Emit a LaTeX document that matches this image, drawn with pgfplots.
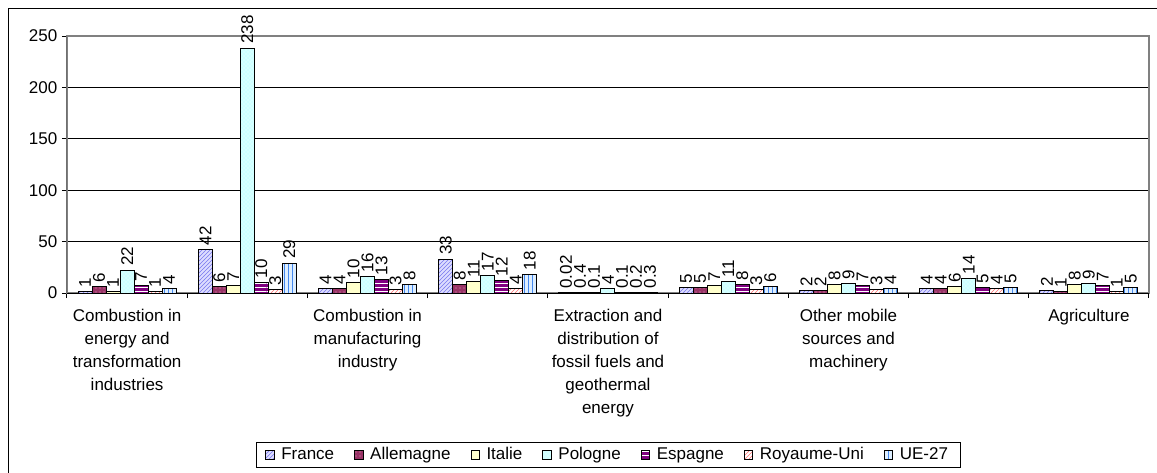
\documentclass[border=0pt]{standalone}
\usepackage{fontspec}
\setmainfont{Liberation Sans}
\usepackage{pgfplots}
\pgfplotsset{compat=1.18}
\usepackage{pgfplotstable}
\usetikzlibrary{patterns}

\definecolor{frF}{HTML}{DDDDFF}
\definecolor{frP}{HTML}{7777EE}
\definecolor{deF}{HTML}{993366}
\definecolor{deP}{HTML}{E0A0C0}
\definecolor{itF}{HTML}{FFFFCC}
\definecolor{plF}{HTML}{CCFFFF}
\definecolor{esF}{HTML}{800080}
\definecolor{ukP}{HTML}{FF7070}
\definecolor{euF}{HTML}{DDEEFF}
\definecolor{euP}{HTML}{4488EE}

% emissions per sector (index 0..8), one column per country
\pgfplotstableread{
x fr de it pl es uk eu
0 1 6 1 22 7 1 4
1 42 6 7 238 10 3 29
2 4 4 10 16 13 3 8
3 33 8 11 17 12 4 18
4 0.02 0.4 0.1 4 0.1 0.2 0.3
5 5 5 7 11 8 3 6
6 2 2 8 9 7 3 4
7 4 4 6 14 5 4 5
8 2 1 8 9 7 1 5
}\emissions

\begin{document}
\begin{tikzpicture}[font=\fontsize{12.75}{17.25}\selectfont]
\useasboundingbox (0pt,0pt) rectangle (867.75pt,-354pt);
\draw[black, line width=0.75pt] (6pt,-6pt) rectangle (880pt,-370pt);

\begin{axis}[
  at={(50.25pt,-219.75pt)}, anchor=south west,
  scale only axis, width=811.5pt, height=192.75pt,
  xmin=-0.5, xmax=8.5, ymin=0, ymax=250,
  ybar=0pt, bar width=10.5pt,
  ytick={0,50,...,250},
  ymajorgrids, grid style={black, line width=0.6pt},
  axis line style={draw=gray, line width=1pt},
  tick pos=left, tick align=outside,
  major tick length=3.75pt, minor tick length=3.75pt,
  tick style={black, line width=0.75pt},
  xtick={0,2,4,6,8},
  major x tick style={draw=none},
  minor xtick={-0.5,0.5,...,8.5},
  xticklabels={{Combustion in\\energy and\\transformation\\industries},
    {Combustion in\\manufacturing\\industry},
    {Extraction and\\distribution of\\fossil fuels and\\geothermal\\energy},
    {Other mobile\\sources and\\machinery},
    {Agriculture}},
  xticklabel style={align=center, anchor=north, yshift=-5pt},
  ticklabel style={font=\fontsize{12.75}{17.25}\selectfont},
  /pgf/number format/assume math mode=true,
  nodes near coords,
  nodes near coords style={rotate=90, anchor=west, inner sep=3pt,
    font=\fontsize{12.75}{17.25}\selectfont,
    /pgf/number format/fixed, /pgf/number format/precision=2},
  legend columns=7,
  legend style={at={(0.5,-0.58)}, anchor=north, draw=black,
    font=\fontsize{12.75}{17.25}\selectfont,
    inner xsep=7pt, inner ysep=2pt,
    /tikz/every odd column/.append style={column sep=3pt},
    /tikz/every even column/.append style={column sep=13pt}},
  legend image code/.code={\draw[#1, line width=0.6pt] (0pt,-3.2pt) rectangle (6.4pt,3.2pt);},
]
\addplot[draw=black, line width=0.75pt, fill=frF, postaction={pattern=north east lines, pattern color=frP}] table[x=x, y=fr] {\emissions};
\addplot[draw=black, line width=0.75pt, fill=deF, postaction={pattern=dots, pattern color=deP}] table[x=x, y=de] {\emissions};
\addplot[draw=black, line width=0.75pt, fill=itF] table[x=x, y=it] {\emissions};
\addplot[draw=black, line width=0.75pt, fill=plF, postaction={pattern=crosshatch dots, pattern color=white}] table[x=x, y=pl] {\emissions};
\addplot[draw=black, line width=0.75pt, fill=esF, postaction={pattern=horizontal lines, pattern color=white}] table[x=x, y=es] {\emissions};
\addplot[draw=black, line width=0.75pt, fill=white, postaction={pattern=north east lines, pattern color=ukP}] table[x=x, y=uk] {\emissions};
\addplot[draw=black, line width=0.75pt, fill=euF, postaction={pattern=vertical lines, pattern color=euP}] table[x=x, y=eu] {\emissions};
\legend{France, Allemagne, Italie, Pologne, Espagne, Royaume-Uni, UE-27}
\draw[black, line width=0.75pt] (rel axis cs:0,0) -- (rel axis cs:0,1);
\draw[black, line width=0.75pt] (rel axis cs:0,0) -- (rel axis cs:1,0);
\end{axis}
\end{tikzpicture}
\end{document}
